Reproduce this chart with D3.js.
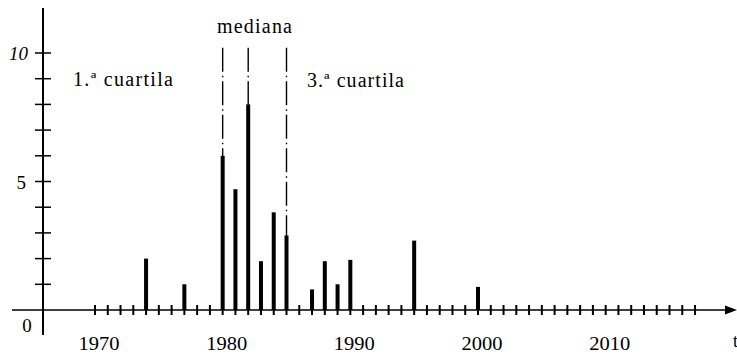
<!DOCTYPE html>
<html><head><meta charset="utf-8">
<script src="https://cdn.jsdelivr.net/npm/d3@7"></script>
<style>
body{margin:0;background:#fff;}
svg{display:block;font-family:"Liberation Serif","DejaVu Serif",serif;}
</style></head>
<body><svg id="c" width="737" height="356"></svg>
<script>
const years  = [1974, 1977, 1980, 1981, 1982, 1983, 1984, 1985, 1987, 1988, 1989, 1990, 1995, 2000];
const counts = [2, 1, 6, 4.7, 8, 1.9, 3.8, 2.9, 0.8, 1.9, 1.0, 1.95, 2.7, 0.9];
const tickYears = d3.range(1970, 2018);
const decadeLabels = [1970, 1980, 1990, 2000, 2010];
const yTicks = [0,1,2,3,4,5,6,7,8,9,10];
const yLabels = [0, 5, 10];
const markers = [
  {year: 1980, label: "1.ª cuartila"},
  {year: 1982, label: "mediana"},
  {year: 1985, label: "3.ª cuartila"}
];

const svg = d3.select("#c");
const x = d3.scaleLinear().domain([1970, 2000]).range([95, 478]);
const y = d3.scaleLinear().domain([0, 10]).range([310, 53]);
const x0 = 43;

// dash-dot marker lines (behind bars)
svg.selectAll("line.mk").data(markers).enter().append("line")
  .attr("x1", d => x(d.year)).attr("x2", d => x(d.year))
  .attr("y1", y(10.2)).attr("y2", y(0))
  .attr("stroke", "#000").attr("stroke-width", 1.4)
  .attr("stroke-dasharray", "24,4,1.5,4");

// x axis line
svg.append("line").attr("x1", 12).attr("x2", 728).attr("y1", y(0)).attr("y2", y(0))
  .attr("stroke", "#000").attr("stroke-width", 1.5);
svg.append("path").attr("d", `M737,${y(0)} L725,${y(0)-4.5} L725,${y(0)+4.5} Z`).attr("fill", "#000");

// x ticks
svg.selectAll("line.xt").data(tickYears).enter().append("line")
  .attr("x1", d => x(d)).attr("x2", d => x(d))
  .attr("y1", y(0) - 5).attr("y2", y(0) + 5)
  .attr("stroke", "#000").attr("stroke-width", 2);

// y axis
svg.append("line").attr("x1", x0).attr("x2", x0).attr("y1", 8).attr("y2", 335)
  .attr("stroke", "#000").attr("stroke-width", 2);
svg.selectAll("line.yt").data(yTicks.filter(d => d > 0)).enter().append("line")
  .attr("x1", x0 - 8).attr("x2", x0 + 8)
  .attr("y1", d => y(d)).attr("y2", d => y(d))
  .attr("stroke", "#000").attr("stroke-width", 1.5);

// bars
svg.selectAll("rect.bar").data(years).enter().append("rect")
  .attr("x", d => x(d) - 2).attr("width", 4)
  .attr("y", (d, i) => y(counts[i]))
  .attr("height", (d, i) => y(0) - y(counts[i]))
  .attr("fill", "#000");

// decade labels
svg.selectAll("text.xl").data(decadeLabels).enter().append("text")
  .attr("x", d => x(d) + 4).attr("y", 350)
  .attr("text-anchor", "middle").attr("font-size", 19)
  .attr("textLength", 41).attr("lengthAdjust", "spacingAndGlyphs")
  .text(d => d);

// y labels
svg.selectAll("text.yl").data(yLabels.filter(d => d > 0)).enter().append("text")
  .attr("x", d => d === 10 ? 28 : 26).attr("y", d => y(d) + 7)
  .attr("text-anchor", "end").attr("font-size", 19).attr("font-style", d => d === 10 ? "italic" : "normal")
  .text(d => d);
svg.append("text").attr("x", 27).attr("y", 332).attr("text-anchor", "middle")
  .attr("font-size", 19).text(yLabels[0]);

// axis name (clipped at the right edge, as in the reference)
svg.append("text").attr("x", 733).attr("y", 347).attr("font-size", 18).text("t");

// marker labels
svg.append("text").attr("x", 73).attr("y", 86).attr("font-size", 20)
  .attr("textLength", 100).attr("lengthAdjust", "spacing").text(markers[0].label);
svg.append("text").attr("x", 217).attr("y", 33).attr("font-size", 20)
  .attr("textLength", 75).attr("lengthAdjust", "spacing").text(markers[1].label);
svg.append("text").attr("x", 307).attr("y", 87).attr("font-size", 20)
  .attr("textLength", 97).attr("lengthAdjust", "spacing").text(markers[2].label);
</script></body></html>
